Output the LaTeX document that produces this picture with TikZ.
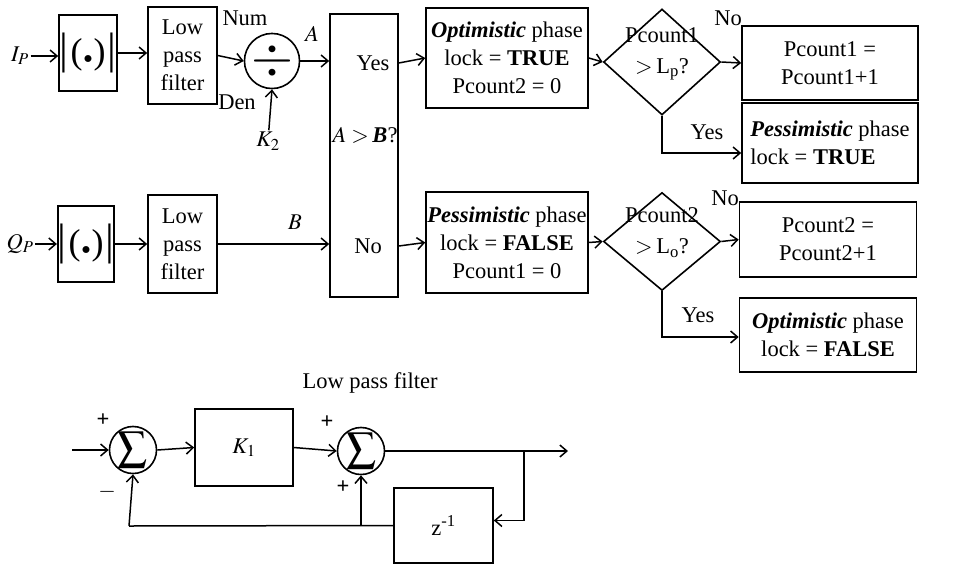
\documentclass[tikz,border=0pt]{standalone}
\usepackage{amsmath}
\usepackage{mathptmx}
\usepackage{fontspec}
\setmainfont{Liberation Serif}
\usepackage{graphicx}
\usepackage{tikz}
\usetikzlibrary{arrows.meta, positioning, calc, shapes.geometric}
\newcommand{\absval}{{\fontsize{44}{44}\selectfont|}\kern2pt{\fontsize{36}{36}\selectfont(}\kern1pt\scalebox{0.8}{$\bullet$}\kern1pt{\fontsize{36}{36}\selectfont)}\kern2pt{\fontsize{44}{44}\selectfont|}}

\begin{document}
\begin{tikzpicture}[x=1pt,y=-1pt,
    font=\fontsize{22.5}{28}\selectfont,
    line width=1.5pt,
    blk/.style={draw,line width=1.6pt,inner sep=0pt,align=center},
    sumnode/.style={draw,circle,line width=1.6pt,inner sep=0pt},
    dmd/.style={draw,diamond,line width=1.6pt,inner sep=0pt},
    lbl/.style={inner sep=1pt,align=center},
    arr/.style={-{Straight Barb[length=7pt,width=12pt]}}]
  \useasboundingbox (0,0) rectangle (966,568);
  % upper branch
  \node[lbl] (ip) at (20,56) {$I_P$};
  \node[blk,minimum width=58pt,minimum height=76pt] (abs1) at (88,53) {\absval};
  \node[blk,minimum width=69pt,minimum height=97pt] (lpf1) at (182.5,55.5) {Low\\pass\\filter};
  \node[sumnode,minimum size=50pt] (div) at (272,61) {\scalebox{2.4}{$\div$}};
  \node[lbl] (num) at (245,18) {Num};
  \node[lbl] (den) at (237,102) {Den};
  \node[lbl] (k2) at (268,141) {$K_2$};
  \node[lbl] (alab) at (312,34) {$A$};
  \node[blk,minimum width=68pt,minimum height=283pt] (cmp) at (364,155.5) {};
  \node[lbl] (yes) at (373,63) {Yes};
  \node[lbl] (cmpq) at (365,135) {$A>$\,\textbf{\textit{B}}?};
  \node[lbl] (no) at (368,246) {No};
  \node[blk,minimum width=162pt,minimum height=100pt] (opt1) at (507,58)
    {\textbf{\textit{Optimistic}} phase\\lock = \textbf{TRUE}\\Pcount2 = 0};
  \node[dmd,minimum width=117pt,minimum height=106pt] (dia1) at (662,62) {};
  \node[lbl] (dq1) at ($(dia1)+(0,-8)$) {Pcount1\\[3pt]$>$\,L\textsubscript{p}?};
  \node[lbl] (no1) at (728,18) {No};
  \node[lbl] (yes1) at (707,132) {Yes};
  \node[blk,minimum width=176pt,minimum height=74pt] (cnt1) at (830,63) {Pcount1 =\\Pcount1+1};
  \node[blk,minimum width=176pt,minimum height=80pt,align=left] (pes1) at (830,143)
    {\textbf{\textit{Pessimistic}} phase\\lock = \textbf{TRUE}};
  % lower branch
  \node[lbl] (qp) at (20,244) {$Q_P$};
  \node[blk,minimum width=56pt,minimum height=76pt] (abs2) at (86,244) {\absval};
  \node[blk,minimum width=69pt,minimum height=98pt] (lpf2) at (182.5,244) {Low\\pass\\filter};
  \node[lbl] (blab) at (295,222) {$B$};
  \node[blk,minimum width=162pt,minimum height=101pt] (pes2) at (507,242.5)
    {\textbf{\textit{Pessimistic}} phase\\lock = \textbf{FALSE}\\Pcount1 = 0};
  \node[dmd,minimum width=117pt,minimum height=98pt] (dia2) at (662,241.5) {};
  \node[lbl] (dq2) at ($(dia2)+(0,-9)$) {Pcount2\\[3pt]$>$\,L\textsubscript{o}?};
  \node[lbl] (no2) at (725,198) {No};
  \node[lbl] (yes2) at (698,315) {Yes};
  \node[blk,minimum width=177pt,minimum height=75pt] (cnt2) at (828,239.5) {Pcount2 =\\Pcount2+1};
  \node[blk,minimum width=177pt,minimum height=74pt] (opt2) at (828,335)
    {\textbf{\textit{Optimistic}} phase\\lock = \textbf{FALSE}};
  \draw[arr] (ip.east) -- (ip.east -| abs1.west);
  \draw[arr] (abs1.east) -- (abs1.east -| lpf1.west);
  \draw[arr] (lpf1.east) -- (div.west);
  \draw[arr] (k2) -- (div.south);
  \draw[arr] (div.east) -- (div.east -| cmp.west);
  \draw[arr] (yes -| cmp.east) -- (opt1.west);
  \draw[arr] (opt1.east) -- (dia1.west);
  \draw[arr] (dia1.east) -- (cnt1.west);
  \draw[arr] (dia1.south) |- ([yshift=-10pt]pes1.west);
  \draw[arr] (qp.east) -- (qp.east -| abs2.west);
  \draw[arr] (abs2) -- (lpf2);
  \draw[arr] (lpf2.east) -- (lpf2.east -| cmp.west);
  \draw[arr] (no -| cmp.east) -- (pes2.west);
  \draw[arr] (pes2.east) -- (dia2.west);
  \draw[arr] (dia2.east) -- (cnt2.west);
  \draw[arr] (dia2.south) |- ([yshift=-2pt]opt2.west);
  % low pass filter detail
  \node[lbl] (title) at (370,383) {Low pass filter};
  \coordinate (in) at (72,450);
  \node[sumnode,minimum size=46pt] (s1) at (133,450) {\scalebox{1.3}{$\displaystyle\sum$}};
  \node[blk,minimum width=98pt,minimum height=77pt] (k1) at (244,447.5) {$K_1$};
  \node[sumnode,minimum size=47pt] (s2) at (361,451) {\scalebox{1.3}{$\displaystyle\sum$}};
  \node[blk,minimum width=99pt,minimum height=75pt] (zinv) at (443.5,525.5) {z\textsuperscript{-1}};
  \coordinate (out) at (568,451);
  \coordinate (br) at (524,451);
  \coordinate (fb) at (129,526);
  \coordinate (jn) at (361,526);
  \node[lbl] (p1) at (103,420) {\textbf{+}};
  \node[lbl] (m1) at (107,492) {$-$};
  \node[lbl] (p2) at (327,422) {\textbf{+}};
  \node[lbl] (p3) at (343,487) {\textbf{+}};
  \draw[arr] (in) -- (s1.west);
  \draw[arr] (s1.east) -- (k1.west);
  \draw[arr] (k1.east) -- (s2.west);
  \draw[arr] (s2.east) -- (out);
  \draw[arr] (br) |- ([yshift=5pt]zinv.east);
  \draw (zinv.west) -- (fb);
  \draw[arr] (fb) -- (s1.south);
  \draw[arr] (jn) -- (s2.south);
\end{tikzpicture}
\end{document}
